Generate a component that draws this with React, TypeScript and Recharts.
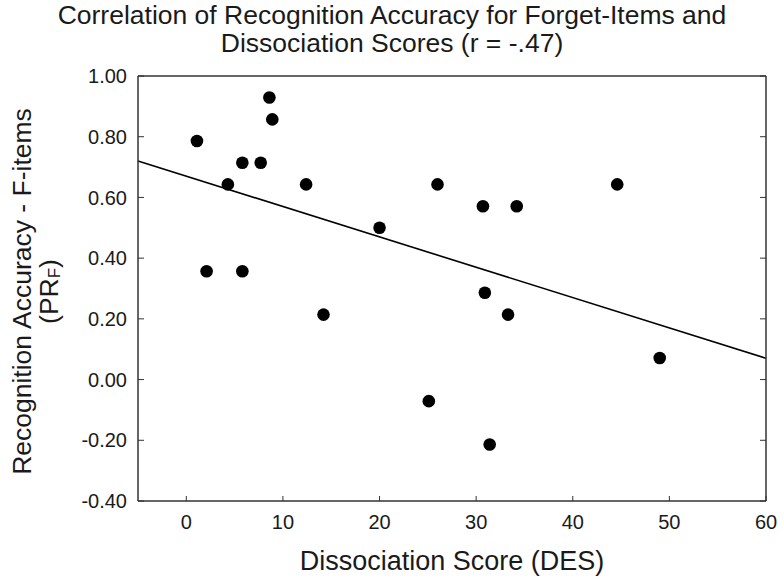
import { ReferenceLine, Scatter, ScatterChart, XAxis, YAxis, Label } from "recharts";

const FONT = "'Liberation Sans', Arial, sans-serif";
const INK = "#1a1a1a";
const FRAME = "#333";

// DES score vs recognition accuracy of forget-items, one entry per participant
const desScores = [1.1, 8.6, 8.9, 5.8, 7.7, 4.3, 12.4, 2.1, 5.8, 14.2, 26.0, 30.7, 34.2, 20.0, 30.9, 33.3, 44.6, 49.0, 25.1, 31.4];
const prF = [0.786, 0.929, 0.857, 0.714, 0.714, 0.643, 0.643, 0.357, 0.357, 0.214, 0.643, 0.571, 0.571, 0.5, 0.286, 0.214, 0.643, 0.071, -0.071, -0.214];

// fitted line as drawn (r = -.47)
const fitX = [-5, 60];
const fitY = [0.72, 0.07];

const xTicks = [0, 10, 20, 30, 40, 50, 60];
const yTicks = [-0.4, -0.2, 0, 0.2, 0.4, 0.6, 0.8, 1.0];

const points = desScores.map((d, i) => ({ des: d, pr: prF[i] }));

const Dot = (p: any) => <circle cx={p.cx} cy={p.cy} r={6.3} fill="#000" />;

const YTitle = (props: any) => {
  const vb = props.viewBox;
  const cy = vb.y + vb.height / 2 + 3;
  return (
    <g>
      <text x={22} y={cy} transform={`rotate(-90 22 ${cy})`} textAnchor="middle" dominantBaseline="central" fontSize={26.5} fontFamily={FONT} fill={INK}>
        Recognition Accuracy - F-items
      </text>
      <text x={49} y={cy} transform={`rotate(-90 49 ${cy})`} textAnchor="middle" dominantBaseline="central" fontSize={26.5} fontFamily={FONT} fill={INK}>
        (PR<tspan fontSize={17} dy={5}>F</tspan><tspan dy={-5}>)</tspan>
      </text>
    </g>
  );
};

export default function App() {
  return (
    <div style={{ position: "relative", width: 784, height: 581, background: "#fff" }}>
      <style>{`body{margin:0}`}</style>
      <div
        style={{
          position: "absolute",
          left: 0,
          top: 1,
          width: 784,
          textAlign: "center",
          fontFamily: FONT,
          fontSize: 26.5,
          lineHeight: "28px",
          color: INK,
          zIndex: 1,
        }}
      >
        Correlation of Recognition Accuracy for Forget-Items and
        <br />
        Dissociation Scores (r = -.47)
      </div>
      <ScatterChart width={784} height={581} margin={{ top: 0, right: 0, bottom: 0, left: 0 }}>
        <XAxis
          xAxisId="b"
          dataKey="des"
          type="number"
          domain={[-5, 60]}
          ticks={xTicks}
          allowDataOverflow
          height={80}
          tickSize={-5}
          tickMargin={19}
          axisLine={{ stroke: FRAME, strokeWidth: 1.5 }}
          tickLine={{ stroke: FRAME }}
          tick={{ fill: INK, fontSize: 20, fontFamily: FONT }}
        >
          <Label value="Dissociation Score (DES)" position="insideBottom" offset={11} fill={INK} fontSize={27} fontFamily={FONT} />
        </XAxis>
        <XAxis
          xAxisId="t"
          orientation="top"
          type="number"
          domain={[-5, 60]}
          ticks={xTicks}
          allowDataOverflow
          height={76}
          tickSize={-5}
          axisLine={{ stroke: FRAME, strokeWidth: 1.5 }}
          tickLine={{ stroke: FRAME }}
          tick={() => <g />}
        />
        <YAxis
          yAxisId="l"
          dataKey="pr"
          type="number"
          domain={[-0.4, 1.0]}
          ticks={yTicks}
          allowDataOverflow
          width={138}
          tickSize={-6}
          tickMargin={17}
          tickFormatter={(v: number) => v.toFixed(2)}
          axisLine={{ stroke: FRAME, strokeWidth: 1.5 }}
          tickLine={{ stroke: FRAME }}
          tick={{ fill: INK, fontSize: 20, fontFamily: FONT }}
        >
          <Label content={<YTitle />} />
        </YAxis>
        <YAxis
          yAxisId="r"
          orientation="right"
          type="number"
          domain={[-0.4, 1.0]}
          ticks={yTicks}
          allowDataOverflow
          width={18}
          tickSize={-6}
          axisLine={{ stroke: FRAME, strokeWidth: 1.5 }}
          tickLine={{ stroke: FRAME }}
          tick={() => <g />}
        />
        <ReferenceLine
          xAxisId="b"
          yAxisId="l"
          segment={[
            { x: fitX[0], y: fitY[0] },
            { x: fitX[1], y: fitY[1] },
          ]}
          stroke="#000"
          strokeWidth={1.6}
        />
        <Scatter xAxisId="b" yAxisId="l" data={points} shape={Dot} isAnimationActive={false} />
      </ScatterChart>
    </div>
  );
}
